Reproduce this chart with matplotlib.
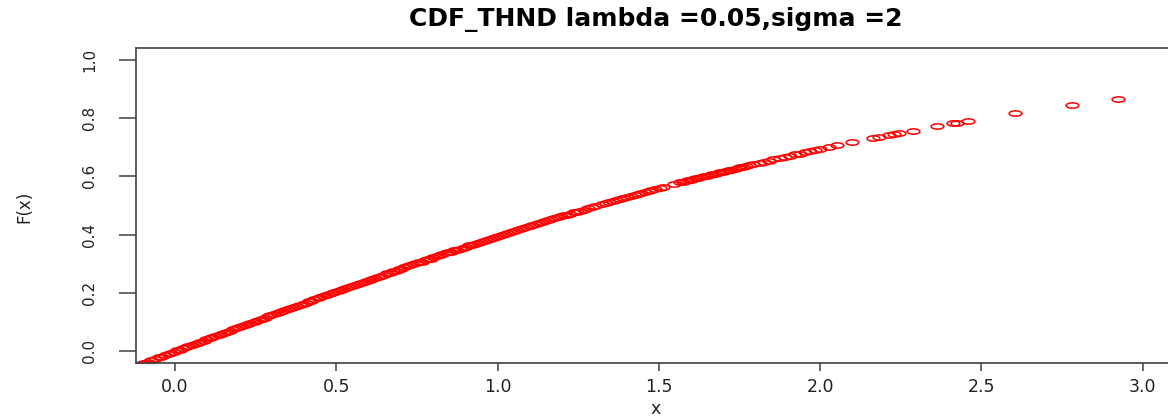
import matplotlib
matplotlib.use("Agg")
import matplotlib.pyplot as plt
from matplotlib.path import Path
from matplotlib.markers import MarkerStyle
from matplotlib.transforms import Affine2D

# Sample points x and their CDF values F(x)
x_vals = [
    -0.140, -0.128, -0.117, -0.106, -0.095, -0.083, -0.074, -0.062, -0.051, -0.043,
    -0.031, -0.022, -0.012, -0.003, 0.006, 0.014, 0.025, 0.033, 0.041, 0.052,
    0.061, 0.070, 0.078, 0.089, 0.097, 0.108, 0.116, 0.124, 0.135, 0.143,
    0.151, 0.162, 0.171, 0.180, 0.189, 0.197, 0.208, 0.216, 0.225, 0.233,
    0.244, 0.252, 0.261, 0.270, 0.279, 0.288, 0.296, 0.307, 0.315, 0.324,
    0.333, 0.342, 0.351, 0.360, 0.368, 0.379, 0.387, 0.396, 0.405, 0.414,
    0.423, 0.431, 0.442, 0.450, 0.459, 0.468, 0.477, 0.486, 0.494, 0.505,
    0.513, 0.522, 0.531, 0.540, 0.549, 0.557, 0.568, 0.576, 0.585, 0.594,
    0.603, 0.612, 0.621, 0.630, 0.639, 0.648, 0.657, 0.666, 0.675, 0.684,
    0.693, 0.702, 0.711, 0.720, 0.729, 0.738, 0.747, 0.756, 0.765, 0.774,
    0.783, 0.792, 0.801, 0.811, 0.820, 0.829, 0.838, 0.847, 0.856, 0.866,
    0.875, 0.884, 0.893, 0.902, 0.912, 0.921, 0.930, 0.939, 0.949, 0.958,
    0.967, 0.976, 0.986, 0.995, 1.004, 1.014, 1.023, 1.032, 1.042, 1.051,
    1.061, 1.070, 1.080, 1.089, 1.099, 1.108, 1.118, 1.127, 1.137, 1.147,
    1.156, 1.166, 1.176, 1.186, 1.196, 1.205, 1.215, 1.225, 1.236, 1.246,
    1.256, 1.267, 1.279, 1.292, 1.302, 1.323, 1.336, 1.345, 1.359, 1.368,
    1.378, 1.390, 1.402, 1.412, 1.426, 1.436, 1.444, 1.457, 1.468, 1.476,
    1.488, 1.503, 1.514, 1.548, 1.566, 1.574, 1.583, 1.590, 1.598, 1.607,
    1.615, 1.622, 1.631, 1.640, 1.648, 1.657, 1.665, 1.673, 1.682, 1.690,
    1.699, 1.708, 1.716, 1.725, 1.735, 1.744, 1.752, 1.762, 1.771, 1.780,
    1.793, 1.812, 1.826, 1.842, 1.855, 1.875, 1.891, 1.906, 1.922, 1.937,
    1.953, 1.969, 1.984, 2.000, 2.028, 2.053, 2.100, 2.163, 2.181, 2.212,
    2.228, 2.245, 2.288, 2.362, 2.412, 2.423, 2.459, 2.605, 2.782, 2.922,
]
f_vals = [
    -0.059, -0.054, -0.049, -0.044, -0.040, -0.035, -0.031, -0.026, -0.021, -0.018,
    -0.013, -0.009, -0.005, -0.001, 0.003, 0.006, 0.010, 0.014, 0.017, 0.022,
    0.025, 0.029, 0.033, 0.037, 0.041, 0.045, 0.048, 0.052, 0.056, 0.060,
    0.063, 0.068, 0.071, 0.075, 0.079, 0.082, 0.087, 0.090, 0.094, 0.097,
    0.101, 0.105, 0.108, 0.112, 0.116, 0.120, 0.123, 0.127, 0.131, 0.134,
    0.138, 0.142, 0.145, 0.149, 0.152, 0.157, 0.160, 0.163, 0.167, 0.171,
    0.174, 0.178, 0.182, 0.185, 0.189, 0.193, 0.196, 0.200, 0.203, 0.207,
    0.210, 0.214, 0.217, 0.221, 0.224, 0.228, 0.232, 0.235, 0.239, 0.242,
    0.246, 0.249, 0.253, 0.256, 0.260, 0.263, 0.267, 0.270, 0.274, 0.277,
    0.281, 0.284, 0.288, 0.291, 0.295, 0.298, 0.302, 0.305, 0.308, 0.312,
    0.315, 0.318, 0.322, 0.326, 0.329, 0.332, 0.336, 0.339, 0.342, 0.346,
    0.349, 0.352, 0.356, 0.359, 0.363, 0.366, 0.369, 0.372, 0.376, 0.379,
    0.382, 0.386, 0.389, 0.393, 0.396, 0.399, 0.402, 0.406, 0.409, 0.412,
    0.416, 0.419, 0.423, 0.426, 0.429, 0.433, 0.436, 0.439, 0.442, 0.446,
    0.449, 0.452, 0.456, 0.459, 0.463, 0.466, 0.469, 0.472, 0.476, 0.479,
    0.482, 0.486, 0.490, 0.494, 0.497, 0.504, 0.508, 0.511, 0.516, 0.518,
    0.522, 0.525, 0.529, 0.532, 0.537, 0.540, 0.542, 0.546, 0.549, 0.552,
    0.555, 0.560, 0.563, 0.573, 0.579, 0.581, 0.584, 0.586, 0.588, 0.590,
    0.593, 0.595, 0.597, 0.600, 0.602, 0.605, 0.607, 0.609, 0.612, 0.614,
    0.616, 0.619, 0.621, 0.623, 0.626, 0.628, 0.631, 0.633, 0.636, 0.638,
    0.642, 0.647, 0.650, 0.654, 0.658, 0.663, 0.667, 0.671, 0.675, 0.678,
    0.682, 0.686, 0.690, 0.694, 0.700, 0.706, 0.717, 0.730, 0.734, 0.741,
    0.744, 0.748, 0.757, 0.772, 0.782, 0.784, 0.791, 0.817, 0.845, 0.864,
]

x_ticks = [0.0, 0.5, 1.0, 1.5, 2.0, 2.5, 3.0]
y_ticks = [0.0, 0.2, 0.4, 0.6, 0.8, 1.0]
title = "CDF_THND lambda =0.05,sigma =2"

W, H = 1168, 419
fig = plt.figure(figsize=(W / 100, H / 100), dpi=100)
fig.patch.set_facecolor("white")

# plot region (R-style 4% padding around xlim=(0,3), ylim=(0,1))
left, right, top, bottom = 136.3, 1181.5, 48.0, 363.0
ax = fig.add_axes([left / W, 1 - bottom / H, (right - left) / W, (bottom - top) / H])
ax.set_xlim(-0.12, 3.12)
ax.set_ylim(-0.04, 1.04)

# wide open ellipse marker
circle = Path.unit_circle()
ellipse = circle.transformed(Affine2D().scale(2.4, 1.0))
marker = MarkerStyle(ellipse)

ax.plot(x_vals, f_vals, linestyle="none", marker=marker, markersize=9.2,
        markerfacecolor="none", markeredgecolor="#ff0000", markeredgewidth=1.1)

frame_col = "#404040"
for side in ["left", "bottom", "top", "right"]:
    ax.spines[side].set_color(frame_col)
    ax.spines[side].set_linewidth(1.2)

ax.set_xticks(x_ticks)
ax.set_xticklabels([f"{v:.1f}" for v in x_ticks])
ax.set_yticks(y_ticks)
ax.set_yticklabels([f"{v:.1f}" for v in y_ticks], rotation=90, va="center")

ax.tick_params(axis="x", length=6, width=1.1, color=frame_col, pad=5,
               labelsize=12.5, labelcolor="#222222")
ax.tick_params(axis="y", length=12, width=1.1, color=frame_col, pad=16,
               labelsize=11, labelcolor="#222222")
for lab in ax.get_xticklabels() + ax.get_yticklabels():
    lab.set_fontfamily("DejaVu Sans")

fig.text(655.5 / W, 1 - 19 / H, title, ha="center", va="center",
         fontsize=18, fontweight="bold", family="DejaVu Sans", color="black")
fig.text(24 / W, 1 - 207 / H, "F(x)", rotation=90, ha="center", va="center",
         fontsize=12, family="DejaVu Sans", color="#222222")
fig.text(656 / W, 1 - 409 / H, "x", ha="center", va="center",
         fontsize=12.5, family="DejaVu Sans", color="#222222")

fig.savefig("out.png", dpi=100, facecolor="white")
